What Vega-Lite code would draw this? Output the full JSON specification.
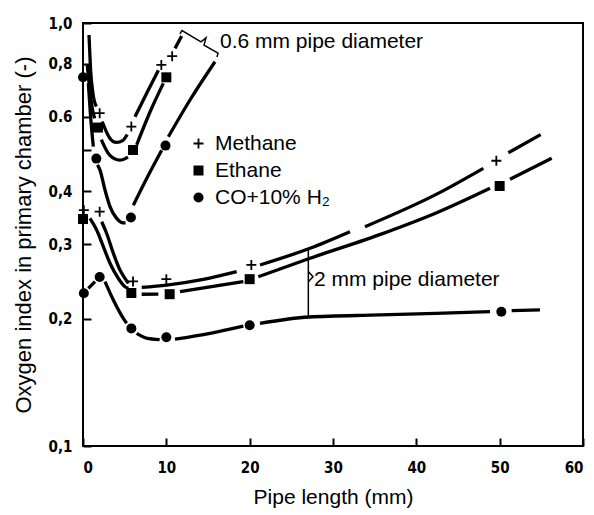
{
"$schema": "https://vega.github.io/schema/vega-lite/v6.json",
"width": 500,
"height": 423,
"autosize": {"type": "none"},
"padding": {"left": 83, "top": 23, "right": 11, "bottom": 69},
"background": "white",
"config": {
  "view": {"stroke": "black", "strokeWidth": 2},
  "font": "Liberation Sans",
  "axis": {"domain": false, "grid": false, "tickColor": "black", "tickWidth": 2, "labelColor": "black", "titleColor": "black", "labelFont": "DejaVu Sans Condensed", "labelFontSize": 15, "labelFontWeight": "bold", "titleFont": "Liberation Sans", "titleFontSize": 21, "titleFontWeight": "normal"}
},
"datasets": {
  "lines": [
    {"gas": "Methane", "seg": "M2a", "length": 2.24, "oxygen": 0.339},
    {"gas": "Methane", "seg": "M2a", "length": 2.84, "oxygen": 0.318},
    {"gas": "Methane", "seg": "M2a", "length": 3.64, "oxygen": 0.2855},
    {"gas": "Methane", "seg": "M2a", "length": 4.44, "oxygen": 0.2606},
    {"gas": "Methane", "seg": "M2a", "length": 5.04, "oxygen": 0.249},
    {"gas": "Methane", "seg": "M2a", "length": 5.44, "oxygen": 0.2424},
    {"gas": "Methane", "seg": "M2b", "length": 7.04, "oxygen": 0.2372},
    {"gas": "Methane", "seg": "M2b", "length": 10.04, "oxygen": 0.2402},
    {"gas": "Methane", "seg": "M2b", "length": 14.44, "oxygen": 0.2478},
    {"gas": "Methane", "seg": "M2b", "length": 18.44, "oxygen": 0.2584},
    {"gas": "Methane", "seg": "M2c", "length": 21.24, "oxygen": 0.2679},
    {"gas": "Methane", "seg": "M2c", "length": 27.24, "oxygen": 0.2934},
    {"gas": "Methane", "seg": "M2c", "length": 32.04, "oxygen": 0.3211},
    {"gas": "Methane", "seg": "M2d", "length": 33.84, "oxygen": 0.33},
    {"gas": "Methane", "seg": "M2d", "length": 42.44, "oxygen": 0.394},
    {"gas": "Methane", "seg": "M2d", "length": 48.04, "oxygen": 0.4534},
    {"gas": "Methane", "seg": "M2e", "length": 51.04, "oxygen": 0.4935},
    {"gas": "Methane", "seg": "M2e", "length": 54.92, "oxygen": 0.5445},
    {"gas": "Methane", "seg": "M6a", "length": 0.72, "oxygen": 0.937},
    {"gas": "Methane", "seg": "M6a", "length": 0.9, "oxygen": 0.78},
    {"gas": "Methane", "seg": "M6a", "length": 1.2, "oxygen": 0.68},
    {"gas": "Methane", "seg": "M6a", "length": 1.6, "oxygen": 0.635},
    {"gas": "Methane", "seg": "M6b", "length": 2.3, "oxygen": 0.585},
    {"gas": "Methane", "seg": "M6b", "length": 3.2, "oxygen": 0.535},
    {"gas": "Methane", "seg": "M6b", "length": 4.0, "oxygen": 0.522},
    {"gas": "Methane", "seg": "M6b", "length": 4.8, "oxygen": 0.528},
    {"gas": "Methane", "seg": "M6b", "length": 5.3, "oxygen": 0.545},
    {"gas": "Methane", "seg": "M6c", "length": 6.24, "oxygen": 0.6},
    {"gas": "Methane", "seg": "M6c", "length": 7.64, "oxygen": 0.682},
    {"gas": "Methane", "seg": "M6c", "length": 9.04, "oxygen": 0.773},
    {"gas": "Methane", "seg": "M6d", "length": 11.04, "oxygen": 0.871},
    {"gas": "Methane", "seg": "M6d", "length": 11.84, "oxygen": 0.932},
    {"gas": "Ethane", "seg": "E2a", "length": 0.84, "oxygen": 0.3453},
    {"gas": "Ethane", "seg": "E2a", "length": 1.64, "oxygen": 0.324},
    {"gas": "Ethane", "seg": "E2a", "length": 2.44, "oxygen": 0.296},
    {"gas": "Ethane", "seg": "E2a", "length": 3.24, "oxygen": 0.2704},
    {"gas": "Ethane", "seg": "E2a", "length": 4.24, "oxygen": 0.249},
    {"gas": "Ethane", "seg": "E2a", "length": 5.04, "oxygen": 0.2379},
    {"gas": "Ethane", "seg": "E2a", "length": 5.44, "oxygen": 0.2359},
    {"gas": "Ethane", "seg": "E2b", "length": 7.04, "oxygen": 0.2284},
    {"gas": "Ethane", "seg": "E2b", "length": 9.04, "oxygen": 0.2286},
    {"gas": "Ethane", "seg": "E2c", "length": 11.64, "oxygen": 0.2316},
    {"gas": "Ethane", "seg": "E2c", "length": 15.24, "oxygen": 0.2379},
    {"gas": "Ethane", "seg": "E2c", "length": 19.24, "oxygen": 0.2446},
    {"gas": "Ethane", "seg": "E2d", "length": 21.04, "oxygen": 0.2513},
    {"gas": "Ethane", "seg": "E2d", "length": 27.24, "oxygen": 0.2778},
    {"gas": "Ethane", "seg": "E2d", "length": 36.04, "oxygen": 0.3182},
    {"gas": "Ethane", "seg": "E2d", "length": 42.44, "oxygen": 0.356},
    {"gas": "Ethane", "seg": "E2d", "length": 48.84, "oxygen": 0.4067},
    {"gas": "Ethane", "seg": "E2e", "length": 51.24, "oxygen": 0.4271},
    {"gas": "Ethane", "seg": "E2e", "length": 56.24, "oxygen": 0.4787},
    {"gas": "Ethane", "seg": "E6a", "length": 0.5, "oxygen": 0.8},
    {"gas": "Ethane", "seg": "E6a", "length": 0.8, "oxygen": 0.7},
    {"gas": "Ethane", "seg": "E6a", "length": 1.1, "oxygen": 0.63},
    {"gas": "Ethane", "seg": "E6a", "length": 1.4, "oxygen": 0.595},
    {"gas": "Ethane", "seg": "E6b", "length": 2.2, "oxygen": 0.53},
    {"gas": "Ethane", "seg": "E6b", "length": 3.2, "oxygen": 0.487},
    {"gas": "Ethane", "seg": "E6b", "length": 4.4, "oxygen": 0.474},
    {"gas": "Ethane", "seg": "E6b", "length": 5.4, "oxygen": 0.482},
    {"gas": "Ethane", "seg": "E6c", "length": 6.44, "oxygen": 0.515},
    {"gas": "Ethane", "seg": "E6c", "length": 8.04, "oxygen": 0.616},
    {"gas": "Ethane", "seg": "E6c", "length": 9.64, "oxygen": 0.72},
    {"gas": "CO", "seg": "C2a", "length": 0.64, "oxygen": 0.2359},
    {"gas": "CO", "seg": "C2a", "length": 1.44, "oxygen": 0.2446},
    {"gas": "CO", "seg": "C2b", "length": 2.64, "oxygen": 0.2446},
    {"gas": "CO", "seg": "C2b", "length": 3.64, "oxygen": 0.2214},
    {"gas": "CO", "seg": "C2b", "length": 4.84, "oxygen": 0.2003},
    {"gas": "CO", "seg": "C2b", "length": 5.24, "oxygen": 0.195},
    {"gas": "CO", "seg": "C2c", "length": 6.44, "oxygen": 0.1847},
    {"gas": "CO", "seg": "C2c", "length": 7.6, "oxygen": 0.18},
    {"gas": "CO", "seg": "C2c", "length": 9.2, "oxygen": 0.1785},
    {"gas": "CO", "seg": "C2d", "length": 11.04, "oxygen": 0.1788},
    {"gas": "CO", "seg": "C2d", "length": 15.24, "oxygen": 0.1847},
    {"gas": "CO", "seg": "C2d", "length": 19.24, "oxygen": 0.1921},
    {"gas": "CO", "seg": "C2e", "length": 21.24, "oxygen": 0.195},
    {"gas": "CO", "seg": "C2e", "length": 27.1, "oxygen": 0.2018},
    {"gas": "CO", "seg": "C2e", "length": 35.64, "oxygen": 0.2041},
    {"gas": "CO", "seg": "C2e", "length": 48.84, "oxygen": 0.2077},
    {"gas": "CO", "seg": "C2f", "length": 51.44, "oxygen": 0.2089},
    {"gas": "CO", "seg": "C2f", "length": 54.84, "oxygen": 0.2097},
    {"gas": "CO", "seg": "C6a", "length": 0.64, "oxygen": 0.72},
    {"gas": "CO", "seg": "C6a", "length": 0.9, "oxygen": 0.606},
    {"gas": "CO", "seg": "C6a", "length": 1.24, "oxygen": 0.51},
    {"gas": "CO", "seg": "C6b", "length": 1.74, "oxygen": 0.462},
    {"gas": "CO", "seg": "C6b", "length": 2.04, "oxygen": 0.449},
    {"gas": "CO", "seg": "C6b", "length": 2.64, "oxygen": 0.403},
    {"gas": "CO", "seg": "C6b", "length": 3.24, "oxygen": 0.368},
    {"gas": "CO", "seg": "C6b", "length": 4.04, "oxygen": 0.3453},
    {"gas": "CO", "seg": "C6b", "length": 4.84, "oxygen": 0.337},
    {"gas": "CO", "seg": "C6b", "length": 5.1, "oxygen": 0.337},
    {"gas": "CO", "seg": "C6c", "length": 6.04, "oxygen": 0.371},
    {"gas": "CO", "seg": "C6c", "length": 7.72, "oxygen": 0.4317},
    {"gas": "CO", "seg": "C6c", "length": 9.44, "oxygen": 0.5},
    {"gas": "CO", "seg": "C6d", "length": 10.24, "oxygen": 0.5383},
    {"gas": "CO", "seg": "C6d", "length": 12.84, "oxygen": 0.6576},
    {"gas": "CO", "seg": "C6d", "length": 15.84, "oxygen": 0.81}
  ],
  "markers": [
    {"gas": "Methane", "diameter": "2 mm", "length": 0.1, "oxygen": 0.361},
    {"gas": "Methane", "diameter": "2 mm", "length": 2.0, "oxygen": 0.358},
    {"gas": "Methane", "diameter": "2 mm", "length": 6.0, "oxygen": 0.245},
    {"gas": "Methane", "diameter": "2 mm", "length": 10.0, "oxygen": 0.248},
    {"gas": "Methane", "diameter": "2 mm", "length": 20.2, "oxygen": 0.268},
    {"gas": "Methane", "diameter": "2 mm", "length": 49.6, "oxygen": 0.4725},
    {"gas": "Methane", "diameter": "0.6 mm", "length": 2.0, "oxygen": 0.612},
    {"gas": "Methane", "diameter": "0.6 mm", "length": 5.8, "oxygen": 0.569},
    {"gas": "Methane", "diameter": "0.6 mm", "length": 9.4, "oxygen": 0.796},
    {"gas": "Methane", "diameter": "0.6 mm", "length": 10.7, "oxygen": 0.835},
    {"gas": "Ethane", "diameter": "2 mm", "length": 0.0, "oxygen": 0.344},
    {"gas": "Ethane", "diameter": "2 mm", "length": 5.8, "oxygen": 0.23},
    {"gas": "Ethane", "diameter": "2 mm", "length": 10.4, "oxygen": 0.2285},
    {"gas": "Ethane", "diameter": "2 mm", "length": 20.0, "oxygen": 0.248},
    {"gas": "Ethane", "diameter": "2 mm", "length": 50.0, "oxygen": 0.4118},
    {"gas": "Ethane", "diameter": "0.6 mm", "length": 1.8, "oxygen": 0.566},
    {"gas": "Ethane", "diameter": "0.6 mm", "length": 6.0, "oxygen": 0.501},
    {"gas": "Ethane", "diameter": "0.6 mm", "length": 10.0, "oxygen": 0.744},
    {"gas": "CO+10% H₂", "diameter": "2 mm", "length": 0.1, "oxygen": 0.2296},
    {"gas": "CO+10% H₂", "diameter": "2 mm", "length": 2.0, "oxygen": 0.251},
    {"gas": "CO+10% H₂", "diameter": "2 mm", "length": 5.8, "oxygen": 0.1897},
    {"gas": "CO+10% H₂", "diameter": "2 mm", "length": 10.0, "oxygen": 0.1807},
    {"gas": "CO+10% H₂", "diameter": "2 mm", "length": 20.0, "oxygen": 0.193},
    {"gas": "CO+10% H₂", "diameter": "2 mm", "length": 50.2, "oxygen": 0.2077},
    {"gas": "CO+10% H₂", "diameter": "0.6 mm", "length": 0.0, "oxygen": 0.744},
    {"gas": "CO+10% H₂", "diameter": "0.6 mm", "length": 1.6, "oxygen": 0.478},
    {"gas": "CO+10% H₂", "diameter": "0.6 mm", "length": 5.75, "oxygen": 0.347},
    {"gas": "CO+10% H₂", "diameter": "0.6 mm", "length": 9.9, "oxygen": 0.513}
  ],
  "braces": [
    {"brace": "0.6 mm", "i": 1, "length": 11.64, "oxygen": 0.942},
    {"brace": "0.6 mm", "i": 2, "length": 11.88, "oxygen": 0.96},
    {"brace": "0.6 mm", "i": 3, "length": 14.16, "oxygen": 0.902},
    {"brace": "0.6 mm", "i": 4, "length": 14.76, "oxygen": 0.922},
    {"brace": "0.6 mm", "i": 5, "length": 14.52, "oxygen": 0.887},
    {"brace": "0.6 mm", "i": 6, "length": 16.2, "oxygen": 0.849},
    {"brace": "0.6 mm", "i": 7, "length": 16.08, "oxygen": 0.831},
    {"brace": "2 mm", "i": 1, "length": 27.04, "oxygen": 0.2585},
    {"brace": "2 mm", "i": 2, "length": 27.6, "oxygen": 0.2513},
    {"brace": "2 mm", "i": 3, "length": 27.04, "oxygen": 0.2445}
  ],
  "brackets": [
    {"length": 27.04, "oxygen": 0.2934, "oxygen2": 0.2021}
  ],
  "labels": [
    {"label": "0.6 mm pipe diameter", "length": 16.44, "oxygen": 0.902},
    {"label": "2 mm pipe diameter", "length": 27.72, "oxygen": 0.2468}
  ]
},
"encoding": {
  "x": {"field": "length", "type": "quantitative", "scale": {"domain": [0, 60], "nice": false, "zero": false},
        "axis": {"title": "Pipe length (mm)", "values": [0, 10, 20, 30, 40, 50, 60], "format": "d", "tickSize": -8, "labelPadding": 22, "titlePadding": 11}},
  "y": {"field": "oxygen", "type": "quantitative", "scale": {"type": "log", "domain": [0.1, 1], "nice": false},
        "axis": {"title": "Oxygen index in primary chamber (-)", "titleFontSize": 22, "values": [0.1, 0.2, 0.3, 0.4, 0.5, 0.6, 0.8, 1.0], "tickSize": -8, "labelPadding": 19, "titlePadding": 13,
                 "labelExpr": "datum.value == 0.5 ? '' : (datum.value == 0.6 ? '0.6' : replace(format(datum.value, '.1f'), '.', ','))"}}
},
"layer": [
  {"data": {"name": "lines"}, "mark": {"type": "line", "color": "black", "strokeWidth": 3.3, "interpolate": "monotone"},
   "encoding": {"detail": {"field": "seg"}}},
  {"data": {"name": "braces"}, "mark": {"type": "line", "color": "black", "strokeWidth": 1.5, "interpolate": "linear"},
   "encoding": {"detail": {"field": "brace"}, "order": {"field": "i"}}},
  {"data": {"name": "brackets"}, "mark": {"type": "rule", "color": "black", "strokeWidth": 1.5},
   "encoding": {"y2": {"field": "oxygen2"}}},
  {"data": {"name": "markers"}, "mark": {"type": "point", "filled": true, "color": "black", "opacity": 1, "size": 100},
   "encoding": {
     "shape": {"field": "gas", "type": "nominal",
               "scale": {"domain": ["Methane", "Ethane", "CO+10% H₂"], "range": ["M-1,-0.18H-0.18V-1H0.18V-0.18H1V0.18H0.18V1H-0.18V0.18H-1Z", "square", "circle"]},
               "legend": {"title": null, "orient": "none", "legendX": 105, "legendY": 110, "padding": 0, "labelFont": "Liberation Sans", "labelFontSize": 21, "labelColor": "black", "symbolSize": 100, "symbolFillColor": "black", "symbolStrokeColor": "black", "symbolStrokeWidth": 0, "symbolOpacity": 1, "rowPadding": 5, "labelOffset": 6}}
   }},
  {"data": {"name": "labels"}, "mark": {"type": "text", "align": "left", "baseline": "middle", "font": "Liberation Sans", "fontSize": 21, "color": "black"},
   "encoding": {"text": {"field": "label"}}}
]
}
